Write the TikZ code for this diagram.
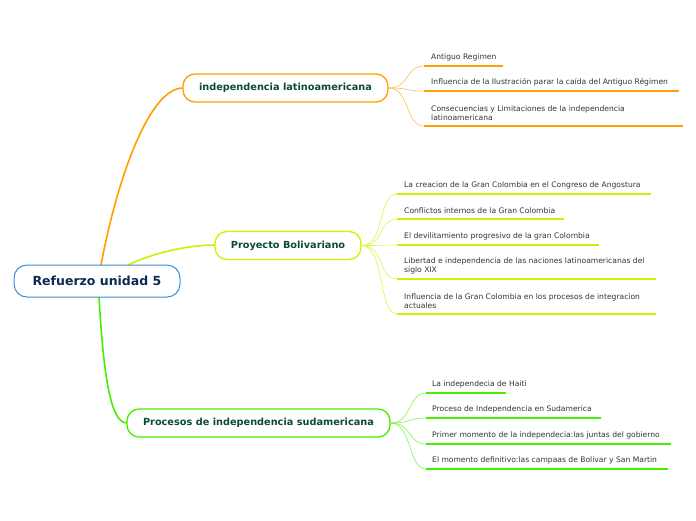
\documentclass[tikz,border=0pt]{standalone}
\usepackage{fontspec}
\setmainfont{DejaVu Sans}
\definecolor{rootblue}{HTML}{3A8ED6}
\definecolor{roottext}{HTML}{0D2A50}
\definecolor{subtext}{HTML}{0C4A34}
\definecolor{leaftext}{HTML}{333333}
\definecolor{orng}{HTML}{FF9F00}
\definecolor{lime}{HTML}{CFF000}
\definecolor{grn}{HTML}{44F000}
\begin{document}
\begin{tikzpicture}[x=1pt,y=-1pt,
  root/.style={draw=rootblue, line width=1pt, fill=white, rounded corners=13pt,
    minimum width=166pt, minimum height=32pt, text=roottext,
    font=\fontsize{12.5}{14}\selectfont\bfseries},
  sub/.style={draw=#1, line width=1.3pt, fill=white, rounded corners=12pt,
    minimum height=28pt, text=subtext, font=\fontsize{9.75}{11}\selectfont\bfseries},
  leaf/.style={anchor=south west, inner sep=0pt, align=left, text=leaftext,
    font=\fontsize{7.6}{9}\selectfont},
  uline/.style={draw=#1, line width=2.2pt},
  twig/.style={draw=#1!70, line width=0.6pt},
  limb/.style={draw=#1, line width=1.6pt}]
\useasboundingbox (0,0) rectangle (696,520);

% trunk
\coordinate (r1) at (101,265);
\coordinate (r2) at (128,265);
\coordinate (r3) at (99,297);
\path[limb=orng] (r1) .. controls (118,175) and (150,88) .. (183,88);
\path[limb=lime] (r2) .. controls (155,252) and (190,245) .. (215,245);
\path[limb=grn] (r3) .. controls (104,385) and (112,423) .. (127,423);

\node[root] (R) at (97,281) {Refuerzo unidad 5};
\node[sub=orng, minimum width=205pt] (A) at (285.5,88) {independencia latinoamericana};
\node[sub=lime, minimum width=146pt] (B) at (288,245.5) {Proyecto Bolivariano};
\node[sub=grn, minimum width=263pt] (C) at (258.5,423) {Procesos de independencia sudamericana};

% independencia latinoamericana
\coordinate (a1) at (424,66);
\coordinate (a2) at (424,91);
\coordinate (a3) at (424,126);
\node[leaf] (la1) at (431,61) {Antiguo Regimen};
\node[leaf] (la2) at (431,86) {Influencia de la Ilustración parar la caída del Antiguo Régimen};
\node[leaf] (la3) at (431,121) {Consecuencias y Limitaciones de la independencia\\latinoamericana};
\foreach \a/\w in {a1/79,a2/255,a3/259} {
  \path[twig=orng] (A.east) .. controls (410,88) and (405,0|-\a) .. (\a);
  \path[uline=orng] (\a) -- ++(\w,0);
}

% Proyecto Bolivariano
\coordinate (b1) at (397,194);
\coordinate (b2) at (397,219);
\coordinate (b3) at (397,245);
\coordinate (b4) at (397,279);
\coordinate (b5) at (397,314);
\node[leaf] (lb1) at (404,189) {La creacion de la Gran Colombia en el Congreso de Angostura};
\node[leaf] (lb2) at (404,214) {Conflictos internos de la Gran Colombia};
\node[leaf] (lb3) at (404,240) {El devilitamiento progresivo de la gran Colombia};
\node[leaf] (lb4) at (404,274) {Libertad e independencia de las naciones latinoamericanas del\\siglo XIX};
\node[leaf] (lb5) at (404,309) {Influencia de la Gran Colombia en los procesos de integracion\\actuales};
\foreach \b/\w in {b1/254,b2/167,b3/202,b4/259,b5/259} {
  \path[twig=lime] (B.east) .. controls (385,245.5) and (378,0|-\b) .. (\b);
  \path[uline=lime] (\b) -- ++(\w,0);
}

% Procesos de independencia sudamericana
\coordinate (c1) at (426,393);
\coordinate (c2) at (426,418);
\coordinate (c3) at (426,444);
\coordinate (c4) at (426,469);
\node[leaf] (lc1) at (432,388) {La independecia de Haiti};
\node[leaf] (lc2) at (432,413) {Proceso de Independencia en Sudamerica};
\node[leaf] (lc3) at (432,439) {Primer momento de la independecia:las juntas del gobierno};
\node[leaf] (lc4) at (432,464) {El momento definitivo:las campaas de Bolivar y San Martin};
\foreach \c/\w in {c1/80,c2/175,c3/245,c4/242} {
  \path[twig=grn] (C.east) .. controls (412,423) and (408,0|-\c) .. (\c);
  \path[uline=grn] (\c) -- ++(\w,0);
}
\end{tikzpicture}
\end{document}
